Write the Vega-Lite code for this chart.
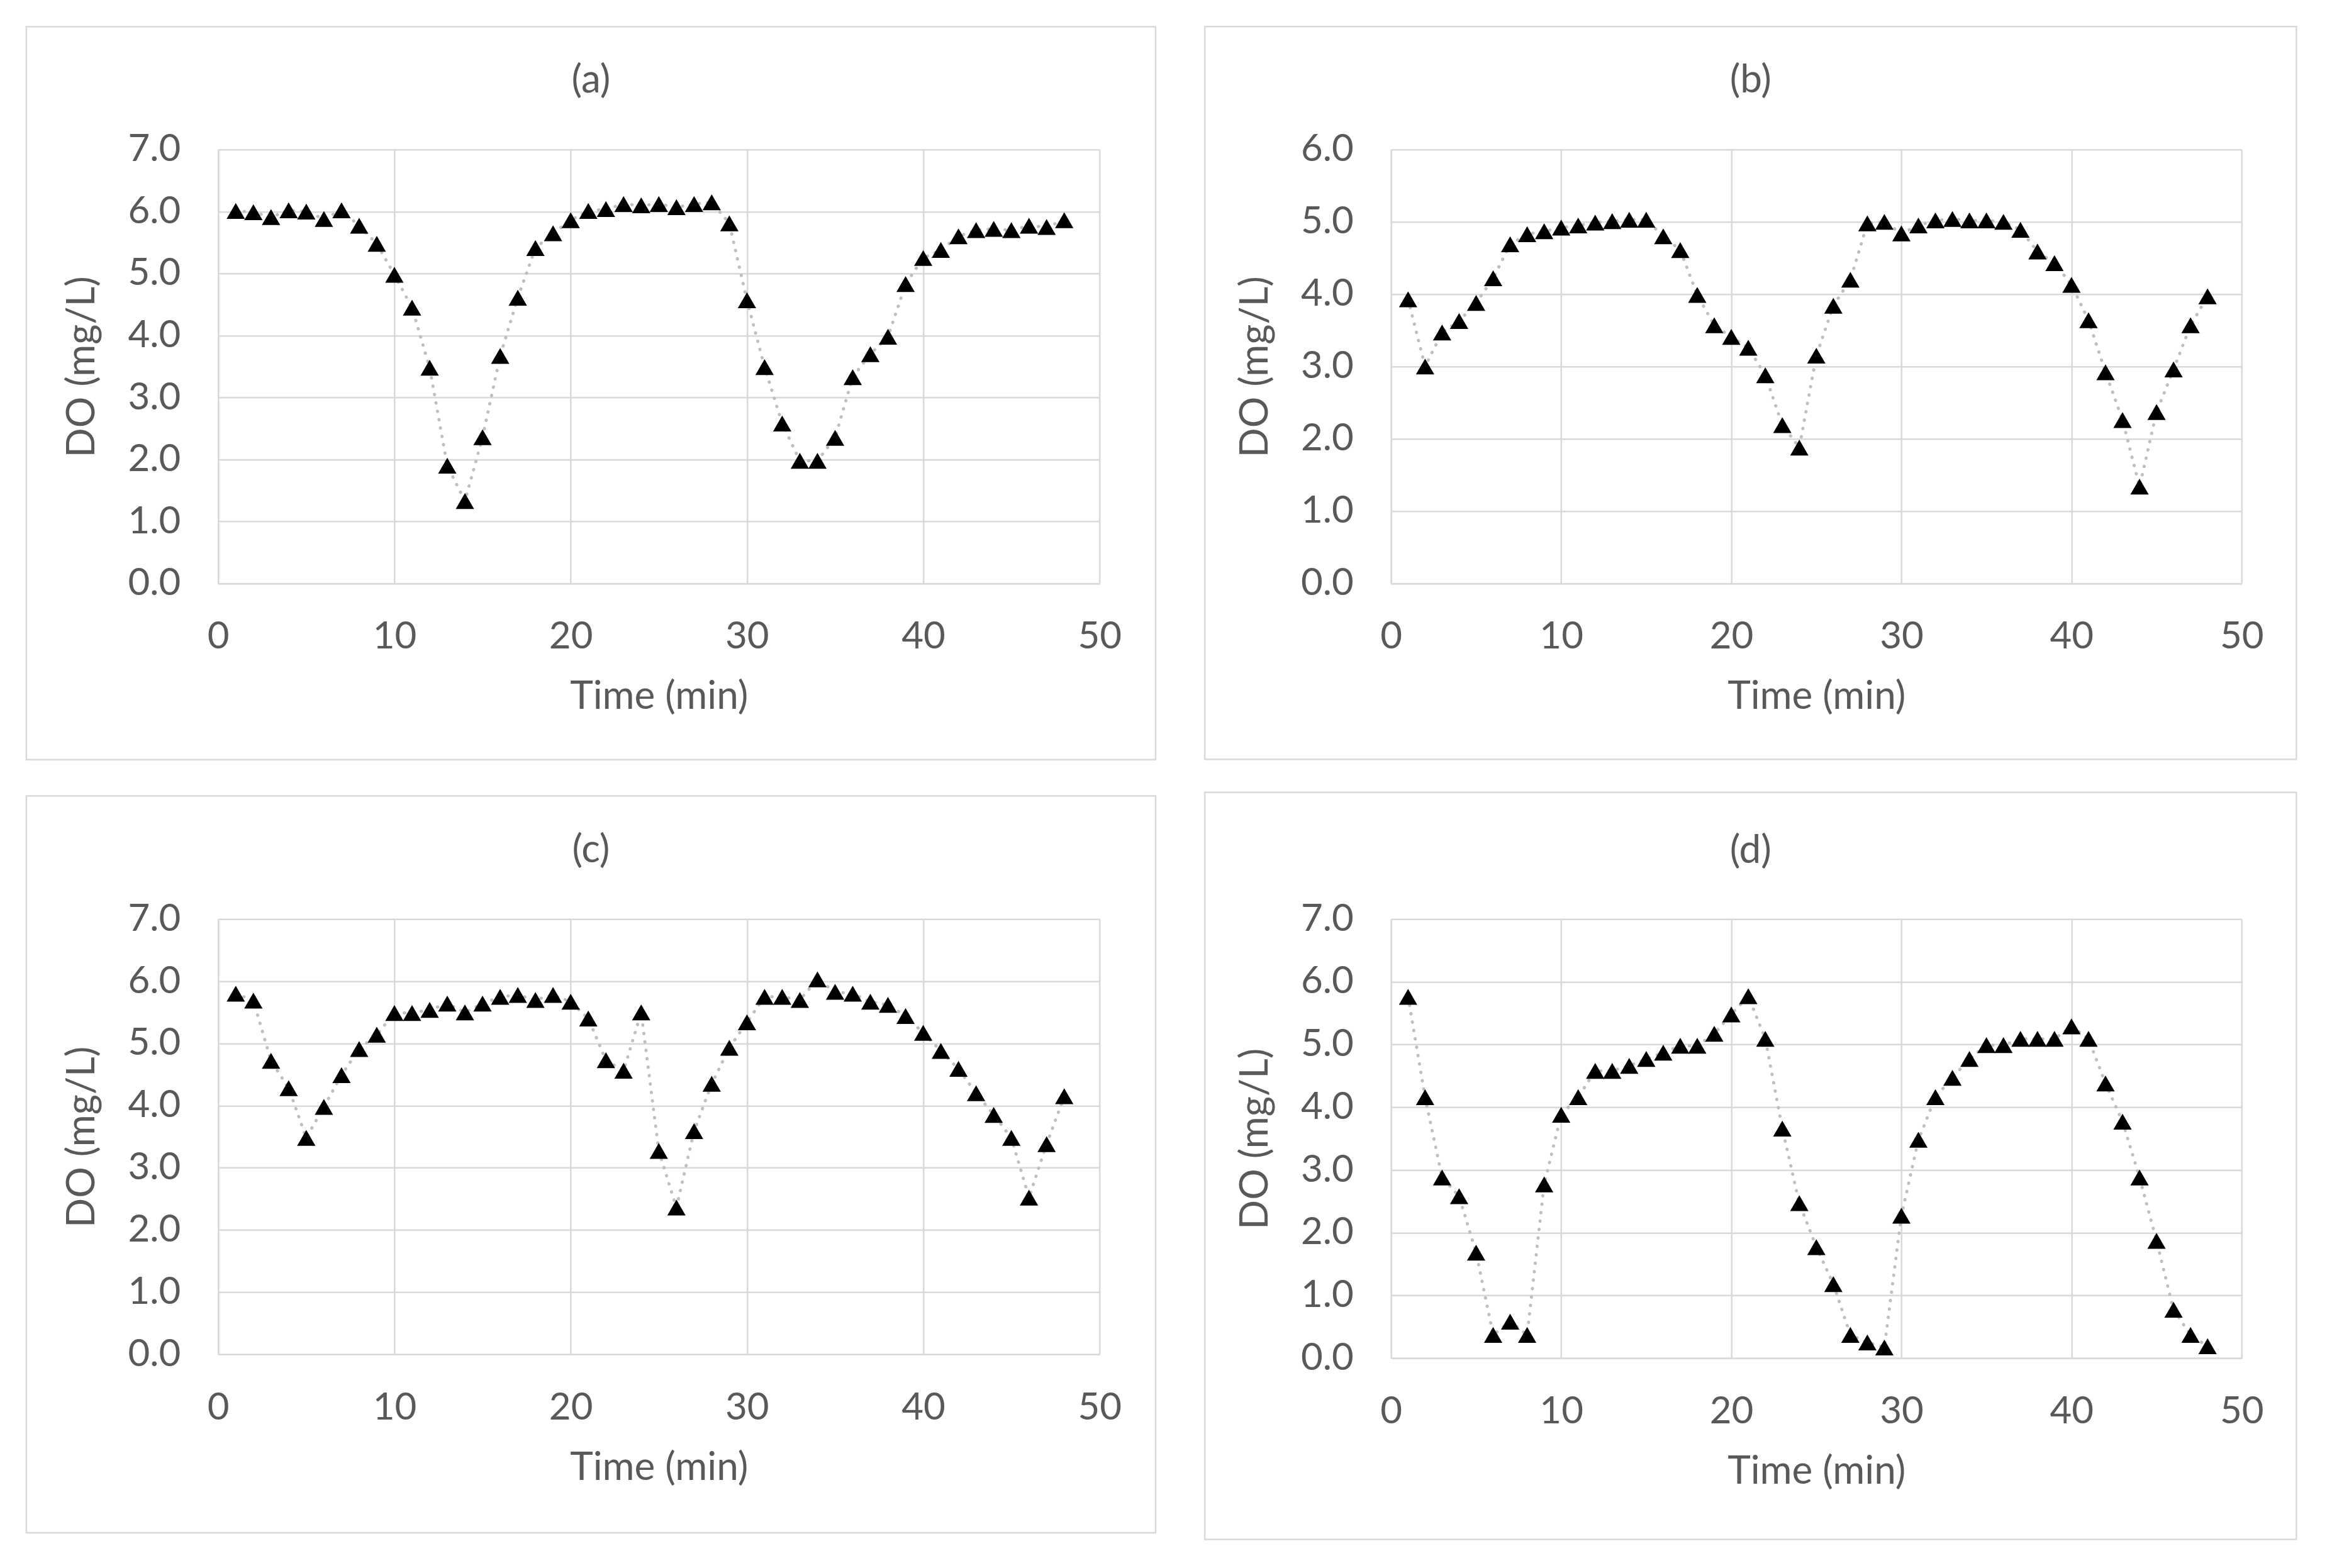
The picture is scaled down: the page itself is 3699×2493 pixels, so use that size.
{
  "$schema": "https://vega.github.io/schema/vega-lite/v6.json",
  "background": "white",
  "padding": {"left": 39.75, "top": 40.75, "right": 0, "bottom": 0},
  "datasets": {
    "do": [
      {"p":"a","t":1,"v":6.01},{"p":"a","t":2,"v":5.99},{"p":"a","t":3,"v":5.91},{"p":"a","t":4,"v":6.02},{"p":"a","t":5,"v":6.0},{"p":"a","t":6,"v":5.88},{"p":"a","t":7,"v":6.02},{"p":"a","t":8,"v":5.77},{"p":"a","t":9,"v":5.48},{"p":"a","t":10,"v":4.98},{"p":"a","t":11,"v":4.45},{"p":"a","t":12,"v":3.48},{"p":"a","t":13,"v":1.9},{"p":"a","t":14,"v":1.33},{"p":"a","t":15,"v":2.36},{"p":"a","t":16,"v":3.67},{"p":"a","t":17,"v":4.61},{"p":"a","t":18,"v":5.41},{"p":"a","t":19,"v":5.65},{"p":"a","t":20,"v":5.86},{"p":"a","t":21,"v":6.01},{"p":"a","t":22,"v":6.04},{"p":"a","t":23,"v":6.12},{"p":"a","t":24,"v":6.1},{"p":"a","t":25,"v":6.12},{"p":"a","t":26,"v":6.07},{"p":"a","t":27,"v":6.12},{"p":"a","t":28,"v":6.15},{"p":"a","t":29,"v":5.81},{"p":"a","t":30,"v":4.57},{"p":"a","t":31,"v":3.49},{"p":"a","t":32,"v":2.58},{"p":"a","t":33,"v":1.98},{"p":"a","t":34,"v":1.98},{"p":"a","t":35,"v":2.35},{"p":"a","t":36,"v":3.33},{"p":"a","t":37,"v":3.7},{"p":"a","t":38,"v":3.98},{"p":"a","t":39,"v":4.83},{"p":"a","t":40,"v":5.25},{"p":"a","t":41,"v":5.38},{"p":"a","t":42,"v":5.6},{"p":"a","t":43,"v":5.7},{"p":"a","t":44,"v":5.72},{"p":"a","t":45,"v":5.7},{"p":"a","t":46,"v":5.77},{"p":"a","t":47,"v":5.75},{"p":"a","t":48,"v":5.86},
      {"p":"b","t":1,"v":3.93},{"p":"b","t":2,"v":3.0},{"p":"b","t":3,"v":3.47},{"p":"b","t":4,"v":3.63},{"p":"b","t":5,"v":3.88},{"p":"b","t":6,"v":4.22},{"p":"b","t":7,"v":4.69},{"p":"b","t":8,"v":4.83},{"p":"b","t":9,"v":4.87},{"p":"b","t":10,"v":4.92},{"p":"b","t":11,"v":4.95},{"p":"b","t":12,"v":4.99},{"p":"b","t":13,"v":5.01},{"p":"b","t":14,"v":5.03},{"p":"b","t":15,"v":5.03},{"p":"b","t":16,"v":4.8},{"p":"b","t":17,"v":4.61},{"p":"b","t":18,"v":3.99},{"p":"b","t":19,"v":3.57},{"p":"b","t":20,"v":3.41},{"p":"b","t":21,"v":3.26},{"p":"b","t":22,"v":2.88},{"p":"b","t":23,"v":2.19},{"p":"b","t":24,"v":1.88},{"p":"b","t":25,"v":3.15},{"p":"b","t":26,"v":3.84},{"p":"b","t":27,"v":4.2},{"p":"b","t":28,"v":4.98},{"p":"b","t":29,"v":5.0},{"p":"b","t":30,"v":4.84},{"p":"b","t":31,"v":4.95},{"p":"b","t":32,"v":5.02},{"p":"b","t":33,"v":5.04},{"p":"b","t":34,"v":5.02},{"p":"b","t":35,"v":5.02},{"p":"b","t":36,"v":5.0},{"p":"b","t":37,"v":4.89},{"p":"b","t":38,"v":4.59},{"p":"b","t":39,"v":4.43},{"p":"b","t":40,"v":4.13},{"p":"b","t":41,"v":3.64},{"p":"b","t":42,"v":2.92},{"p":"b","t":43,"v":2.26},{"p":"b","t":44,"v":1.34},{"p":"b","t":45,"v":2.37},{"p":"b","t":46,"v":2.96},{"p":"b","t":47,"v":3.57},{"p":"b","t":48,"v":3.97},
      {"p":"c","t":1,"v":5.8},{"p":"c","t":2,"v":5.69},{"p":"c","t":3,"v":4.72},{"p":"c","t":4,"v":4.28},{"p":"c","t":5,"v":3.48},{"p":"c","t":6,"v":3.98},{"p":"c","t":7,"v":4.49},{"p":"c","t":8,"v":4.91},{"p":"c","t":9,"v":5.14},{"p":"c","t":10,"v":5.49},{"p":"c","t":11,"v":5.49},{"p":"c","t":12,"v":5.54},{"p":"c","t":13,"v":5.64},{"p":"c","t":14,"v":5.5},{"p":"c","t":15,"v":5.64},{"p":"c","t":16,"v":5.75},{"p":"c","t":17,"v":5.78},{"p":"c","t":18,"v":5.7},{"p":"c","t":19,"v":5.78},{"p":"c","t":20,"v":5.67},{"p":"c","t":21,"v":5.4},{"p":"c","t":22,"v":4.73},{"p":"c","t":23,"v":4.56},{"p":"c","t":24,"v":5.5},{"p":"c","t":25,"v":3.27},{"p":"c","t":26,"v":2.36},{"p":"c","t":27,"v":3.59},{"p":"c","t":28,"v":4.35},{"p":"c","t":29,"v":4.93},{"p":"c","t":30,"v":5.34},{"p":"c","t":31,"v":5.75},{"p":"c","t":32,"v":5.75},{"p":"c","t":33,"v":5.7},{"p":"c","t":34,"v":6.03},{"p":"c","t":35,"v":5.83},{"p":"c","t":36,"v":5.8},{"p":"c","t":37,"v":5.67},{"p":"c","t":38,"v":5.62},{"p":"c","t":39,"v":5.44},{"p":"c","t":40,"v":5.17},{"p":"c","t":41,"v":4.88},{"p":"c","t":42,"v":4.59},{"p":"c","t":43,"v":4.2},{"p":"c","t":44,"v":3.85},{"p":"c","t":45,"v":3.48},{"p":"c","t":46,"v":2.52},{"p":"c","t":47,"v":3.38},{"p":"c","t":48,"v":4.15},
      {"p":"d","t":1,"v":5.76},{"p":"d","t":2,"v":4.16},{"p":"d","t":3,"v":2.88},{"p":"d","t":4,"v":2.58},{"p":"d","t":5,"v":1.68},{"p":"d","t":6,"v":0.37},{"p":"d","t":7,"v":0.58},{"p":"d","t":8,"v":0.37},{"p":"d","t":9,"v":2.77},{"p":"d","t":10,"v":3.88},{"p":"d","t":11,"v":4.16},{"p":"d","t":12,"v":4.58},{"p":"d","t":13,"v":4.58},{"p":"d","t":14,"v":4.66},{"p":"d","t":15,"v":4.77},{"p":"d","t":16,"v":4.87},{"p":"d","t":17,"v":4.98},{"p":"d","t":18,"v":4.98},{"p":"d","t":19,"v":5.17},{"p":"d","t":20,"v":5.48},{"p":"d","t":21,"v":5.77},{"p":"d","t":22,"v":5.09},{"p":"d","t":23,"v":3.66},{"p":"d","t":24,"v":2.47},{"p":"d","t":25,"v":1.77},{"p":"d","t":26,"v":1.18},{"p":"d","t":27,"v":0.37},{"p":"d","t":28,"v":0.25},{"p":"d","t":29,"v":0.17},{"p":"d","t":30,"v":2.27},{"p":"d","t":31,"v":3.48},{"p":"d","t":32,"v":4.16},{"p":"d","t":33,"v":4.47},{"p":"d","t":34,"v":4.77},{"p":"d","t":35,"v":4.99},{"p":"d","t":36,"v":4.99},{"p":"d","t":37,"v":5.09},{"p":"d","t":38,"v":5.09},{"p":"d","t":39,"v":5.09},{"p":"d","t":40,"v":5.29},{"p":"d","t":41,"v":5.09},{"p":"d","t":42,"v":4.38},{"p":"d","t":43,"v":3.77},{"p":"d","t":44,"v":2.88},{"p":"d","t":45,"v":1.87},{"p":"d","t":46,"v":0.77},{"p":"d","t":47,"v":0.37},{"p":"d","t":48,"v":0.19}
    ]
  },
  "config": {
    "font": "Lato",
    "view": {"stroke": null},
    "axis": {
      "labelFont": "Lato", "titleFont": "Lato",
      "labelColor": "#595959", "titleColor": "#595959",
      "labelFontSize": 60, "titleFontSize": 62, "titleFontWeight": "normal",
      "grid": true, "gridColor": "#d9d9d9", "gridWidth": 2.5,
      "domainColor": "#d9d9d9", "domainWidth": 2.5,
      "ticks": false, "labelFlush": false, "labelBound": false, "labelOverlap": false
    },
    "title": {"font": "Lato", "fontSize": 62, "fontWeight": "normal", "color": "#595959", "anchor": "middle", "frame": "bounds"}
  },
  "spacing": 48.5,
  "vconcat": [
    {
      "spacing": 74.5,
      "hconcat": [
        {
          "width": 1401, "height": 690,
          "title": {"text": "(a)", "offset": -119},
          "layer": [
            {
              "data": {"values": [{}]},
              "mark": {"type": "rect", "fill": null, "stroke": "#d9d9d9", "strokeWidth": 2.5, "clip": false},
              "encoding": {
                "x": {"datum": -10.88, "type": "quantitative", "scale": {"domain": [0, 50]}, "axis": {"values": [0,10,20,30,40,50], "format": "d", "title": "Time (min)", "labelPadding": 56, "titlePadding": 35}},
                "x2": {"datum": 53.18},
                "y": {"datum": 8.98, "type": "quantitative", "scale": {"domain": [0, 7]}, "axis": {"values": [0,1,2,3,4,5,6,7], "format": ".1f", "title": "DO (mg/L)", "labelPadding": 60, "titlePadding": 40}},
                "y2": {"datum": -2.84}
              }
            },
            {
              "data": {"name": "do"},
              "transform": [{"filter": "datum.p === 'a'"}],
              "encoding": {
                "x": {"field": "t", "type": "quantitative", "scale": {"domain": [0, 50]}},
                "y": {"field": "v", "type": "quantitative", "scale": {"domain": [0, 7]}}
              },
              "layer": [
                {"mark": {"type": "line", "color": "#bfbfbf", "strokeWidth": 5, "strokeDash": [0.5, 13], "strokeCap": "round"}},
                {"mark": {"type": "point", "shape": "triangle-up", "filled": true, "color": "black", "opacity": 1, "size": 850}}
              ]
            }
          ]
        },
        {
          "width": 1352, "height": 690,
          "title": {"text": "(b)", "offset": -119},
          "layer": [
            {
              "data": {"values": [{}]},
              "mark": {"type": "rect", "fill": null, "stroke": "#d9d9d9", "strokeWidth": 2.5, "clip": false},
              "encoding": {
                "x": {"datum": -10.95, "type": "quantitative", "scale": {"domain": [0, 50]}, "axis": {"values": [0,10,20,30,40,50], "format": "d", "title": "Time (min)", "labelPadding": 56, "titlePadding": 35}},
                "x2": {"datum": 53.22},
                "y": {"datum": 7.7, "type": "quantitative", "scale": {"domain": [0, 6]}, "axis": {"values": [0,1,2,3,4,5,6], "format": ".1f", "title": "DO (mg/L)", "labelPadding": 60, "titlePadding": 40}},
                "y2": {"datum": -2.43}
              }
            },
            {
              "data": {"name": "do"},
              "transform": [{"filter": "datum.p === 'b'"}],
              "encoding": {
                "x": {"field": "t", "type": "quantitative", "scale": {"domain": [0, 50]}},
                "y": {"field": "v", "type": "quantitative", "scale": {"domain": [0, 6]}}
              },
              "layer": [
                {"mark": {"type": "line", "color": "#bfbfbf", "strokeWidth": 5, "strokeDash": [0.5, 13], "strokeCap": "round"}},
                {"mark": {"type": "point", "shape": "triangle-up", "filled": true, "color": "black", "opacity": 1, "size": 850}}
              ]
            }
          ]
        }
      ]
    },
    {
      "spacing": 74.5,
      "hconcat": [
        {
          "width": 1401, "height": 692,
          "title": {"text": "(c)", "offset": -120},
          "layer": [
            {
              "data": {"values": [{}]},
              "mark": {"type": "rect", "fill": null, "stroke": "#d9d9d9", "strokeWidth": 2.5, "clip": false},
              "encoding": {
                "x": {"datum": -10.88, "type": "quantitative", "scale": {"domain": [0, 50]}, "axis": {"values": [0,10,20,30,40,50], "format": "d", "title": "Time (min)", "labelPadding": 56, "titlePadding": 35}},
                "x2": {"datum": 53.18},
                "y": {"datum": 8.98, "type": "quantitative", "scale": {"domain": [0, 7]}, "axis": {"values": [0,1,2,3,4,5,6,7], "format": ".1f", "title": "DO (mg/L)", "labelPadding": 60, "titlePadding": 40}},
                "y2": {"datum": -2.87}
              }
            },
            {
              "data": {"name": "do"},
              "transform": [{"filter": "datum.p === 'c'"}],
              "encoding": {
                "x": {"field": "t", "type": "quantitative", "scale": {"domain": [0, 50]}},
                "y": {"field": "v", "type": "quantitative", "scale": {"domain": [0, 7]}}
              },
              "layer": [
                {"mark": {"type": "line", "color": "#bfbfbf", "strokeWidth": 5, "strokeDash": [0.5, 13], "strokeCap": "round"}},
                {"mark": {"type": "point", "shape": "triangle-up", "filled": true, "color": "black", "opacity": 1, "size": 850}}
              ]
            }
          ]
        },
        {
          "width": 1352, "height": 698,
          "title": {"text": "(d)", "offset": -126},
          "layer": [
            {
              "data": {"values": [{}]},
              "mark": {"type": "rect", "fill": null, "stroke": "#d9d9d9", "strokeWidth": 2.5, "clip": false},
              "encoding": {
                "x": {"datum": -10.95, "type": "quantitative", "scale": {"domain": [0, 50]}, "axis": {"values": [0,10,20,30,40,50], "format": "d", "title": "Time (min)", "labelPadding": 56, "titlePadding": 35}},
                "x2": {"datum": 53.22},
                "y": {"datum": 9.02, "type": "quantitative", "scale": {"domain": [0, 7]}, "axis": {"values": [0,1,2,3,4,5,6,7], "format": ".1f", "title": "DO (mg/L)", "labelPadding": 60, "titlePadding": 40}},
                "y2": {"datum": -2.89}
              }
            },
            {
              "data": {"name": "do"},
              "transform": [{"filter": "datum.p === 'd'"}],
              "encoding": {
                "x": {"field": "t", "type": "quantitative", "scale": {"domain": [0, 50]}},
                "y": {"field": "v", "type": "quantitative", "scale": {"domain": [0, 7]}}
              },
              "layer": [
                {"mark": {"type": "line", "color": "#bfbfbf", "strokeWidth": 5, "strokeDash": [0.5, 13], "strokeCap": "round"}},
                {"mark": {"type": "point", "shape": "triangle-up", "filled": true, "color": "black", "opacity": 1, "size": 850}}
              ]
            }
          ]
        }
      ]
    }
  ]
}
